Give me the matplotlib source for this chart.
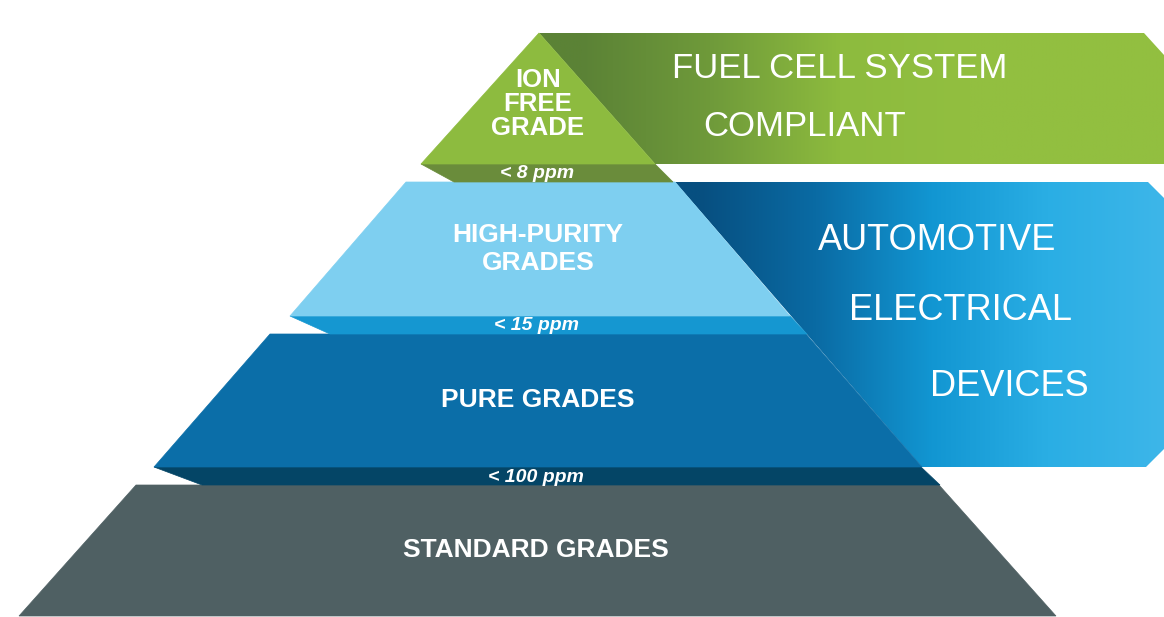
import matplotlib
matplotlib.use("Agg")
import matplotlib.pyplot as plt
import numpy as np
from matplotlib.patches import Polygon
from matplotlib.colors import LinearSegmentedColormap

# ---- content ----
tier_labels = ["ION\nFREE\nGRADE", "HIGH-PURITY\nGRADES", "PURE GRADES", "STANDARD GRADES"]
ppm_labels = ["< 8 ppm", "< 15 ppm", "< 100 ppm"]
app_fuel = ["FUEL CELL SYSTEM", "COMPLIANT"]
app_auto = ["AUTOMOTIVE", "ELECTRICAL", "DEVICES"]

# ---- geometry (pixel space, y downwards) ----
W, H = 1164, 617
standard = [(136, 485), (939, 485), (1056, 616), (19, 616)]
band100 = [(154, 467), (921, 467), (940, 485), (202, 485)]
pure = [(270, 334), (806, 334), (922, 467), (154, 467)]
band15 = [(290, 316), (790, 316), (807, 334), (330, 334)]
hp = [(406, 182), (675, 182), (790, 316), (290, 316)]
band8 = [(421, 164), (655, 164), (673, 182), (454, 182)]
ion = [(539, 33), (655, 164), (421, 164)]
fuel_panel = [(539, 33), (1144, 33), (1164, 55), (1164, 164), (655, 164)]
auto_panel = [(675, 182), (1148, 182), (1164, 198), (1164, 449), (1146, 467), (922, 467)]

fig = plt.figure(figsize=(W / 100, H / 100), dpi=100)
fig.patch.set_facecolor("white")
ax = fig.add_axes([0, 0, 1, 1])
ax.set_axis_off()


def grad_poly(poly, colors, x0, x1):
    patch = Polygon(poly, closed=True, facecolor="none", edgecolor="none")
    ax.add_patch(patch)
    cmap = LinearSegmentedColormap.from_list("g", colors)
    xs_ = [p[0] for p in poly]
    ys = [p[1] for p in poly]
    px = np.linspace(min(xs_), max(xs_), 800)
    vals = np.clip((px - x0) / (x1 - x0), 0, 1)[None, :]
    im = ax.imshow(vals, cmap=cmap, vmin=0, vmax=1,
                   extent=(min(xs_), max(xs_), max(ys), min(ys)),
                   aspect="auto", interpolation="bilinear", zorder=1)
    im.set_clip_path(patch)


def flat(poly, color, z=2):
    ax.add_patch(Polygon(poly, closed=True, facecolor=color, edgecolor=color,
                         linewidth=0.5, zorder=z))


# application panels with gradients
grad_poly(fuel_panel, ["#5b8236", "#6f9a3a", "#8dbb3e", "#92bf40", "#92bf40"], 580, 1100)
grad_poly(auto_panel, ["#074f80", "#0a6ba4", "#1296d2", "#2aaee4", "#3db6e9"], 700, 1164)

# pyramid
flat(standard, "#4f6063")
flat(band100, "#044566")
flat(pure, "#0b6ea8")
flat(band15, "#1597d1")
flat(hp, "#7ecff0")
flat(band8, "#6a8c3b")
flat(ion, "#8dbb3f")

font = "Liberation Sans"
cx = 538
# tier labels
ax.text(cx, 104, tier_labels[0], ha="center", va="center", color="white",
        fontsize=18.5, fontweight="bold", family=font, linespacing=0.98, zorder=5)
ax.text(cx, 249, tier_labels[1], ha="center", va="center", color="white",
        fontsize=19, fontweight="bold", family=font, linespacing=1.2, zorder=5)
ax.text(cx, 400, tier_labels[2], ha="center", va="center", color="white",
        fontsize=19, fontweight="bold", family=font, zorder=5)
ax.text(536, 550, tier_labels[3], ha="center", va="center", color="white",
        fontsize=19, fontweight="bold", family=font, zorder=5)

# ppm labels
for txt, y, x in zip(ppm_labels, [174, 326, 478], [537, 537, 536]):
    ax.text(x, y, txt, ha="center", va="center", color="white", fontsize=14,
            fontweight="bold", fontstyle="italic", family=font, zorder=5)

# application labels
for txt, x, y in zip(app_fuel, [840, 805], [68, 126]):
    ax.text(x, y, txt, ha="center", va="center", color="white", fontsize=25,
            family=font, zorder=5)
for txt, x, y in zip(app_auto, [937, 961, 1009], [240, 310, 386]):
    ax.text(x, y, txt, ha="center", va="center", color="white", fontsize=26,
            family=font, zorder=5)

ax.set_xlim(0, W)
ax.set_ylim(H, 0)
fig.savefig("out.png", dpi=100, facecolor="white")
